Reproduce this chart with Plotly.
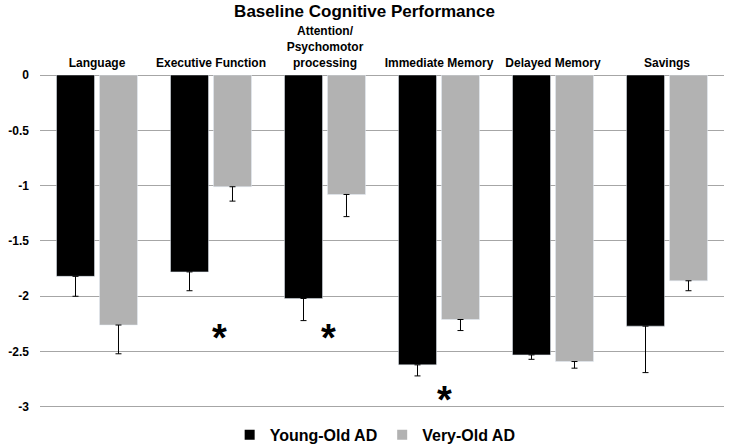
import plotly.graph_objects as go

categories = ["Language", "Executive Function", "Attention/<br>Psychomotor<br>processing",
              "Immediate Memory", "Delayed Memory", "Savings"]
young_old = [-1.82, -1.78, -2.02, -2.62, -2.53, -2.27]
young_old_err = [0.18, 0.17, 0.20, 0.10, 0.04, 0.42]
very_old = [-2.26, -1.01, -1.08, -2.21, -2.59, -1.86]
very_old_err = [0.26, 0.13, 0.20, 0.10, 0.06, 0.09]
series_names = ["Young-Old AD", "Very-Old AD"]
series_colors = ["#000000", "#b2b2b2"]
sig_categories = ["Executive Function", "Attention/<br>Psychomotor<br>processing", "Immediate Memory"]
sig_y = [-2.30, -2.30, -2.86]
yticks = [0, -0.5, -1, -1.5, -2, -2.5, -3]
ytick_text = ["0", "-0.5", "-1", "-1.5", "-2", "-2.5", "-3"]

font = "Liberation Sans, Arial, sans-serif"

fig = go.Figure()
for name, vals, errs, col in zip(series_names, [young_old, very_old],
                                 [young_old_err, very_old_err], series_colors):
    fig.add_trace(go.Bar(
        name=name, x=categories, y=vals, marker_color=col, showlegend=False,
        legendgroup=name,
        error_y=dict(type="data", symmetric=False, array=[0]*len(vals), arrayminus=errs,
                     color="#000000", thickness=1, width=3),
    ))
# legend entries with small square swatches
for name, col in zip(series_names, series_colors):
    fig.add_trace(go.Scatter(
        name=f"<b>{name}</b>", x=[None], y=[None], mode="markers", legendgroup=name,
        marker=dict(symbol="square", size=10, color=col), showlegend=True,
    ))

for c, yv, xs in zip(sig_categories, sig_y, [8, 3, 5]):
    fig.add_annotation(x=c, y=yv, text="<b>*</b>", showarrow=False, xshift=xs, yshift=-9,
                       font=dict(size=38, color="#000000", family=font))

fig.update_layout(
    width=729, height=448,
    margin=dict(l=40, r=5, t=75, b=40, autoexpand=False),
    paper_bgcolor="white", plot_bgcolor="white",
    barmode="group", bargap=0.246, bargroupgap=0.116,
    title=dict(text="<b>Baseline Cognitive Performance</b>", x=0.5, xanchor="center",
               y=0.988, yanchor="top", font=dict(size=17, family=font, color="#000000")),
    font=dict(family=font, color="#000000"),
    showlegend=True,
    legend=dict(orientation="h", x=0.49, xanchor="center", y=-0.081, yanchor="middle",
                font=dict(size=16, family=font, color="#000000"),
                traceorder="normal", itemwidth=30),
    xaxis=dict(side="top", showline=False, ticks="", showgrid=False, automargin=False,
               tickfont=dict(size=12, family=font, color="#000000"),
               ticklabelstandoff=5),
    yaxis=dict(range=[-3.01, 0], tickvals=yticks, ticktext=[f"<b>{t}</b>" for t in ytick_text],
               showgrid=True, gridcolor="#a6a6a6", gridwidth=1, automargin=False,
               zeroline=True, zerolinecolor="#a6a6a6", zerolinewidth=1,
               showline=False, ticks="", ticklabelstandoff=10,
               tickfont=dict(size=12, family=font, color="#000000")),
)
fig.update_xaxes(ticktext=[f"<b>{c}</b>" for c in categories], tickvals=categories)

fig.write_html("out.html", config={"displayModeBar": False},
               post_script="document.body.style.margin='0px';")
